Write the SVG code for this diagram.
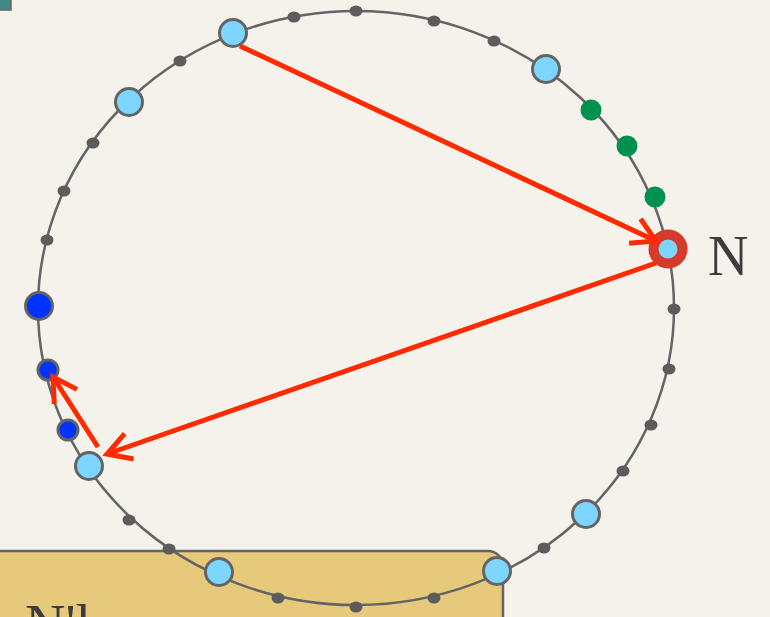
<svg xmlns="http://www.w3.org/2000/svg" width="770" height="617" viewBox="0 0 770 617">
<style>
.ring{fill:none;stroke:#646464;stroke-width:2.5}
.dot{fill:#5c5c5c}
.lb{fill:#7dd6ff;stroke:#646464;stroke-width:3}
.bl{fill:#0033ff;stroke:#646464;stroke-width:3}
.gr{fill:#009150}
.arr{fill:none;stroke:#ff2a00;stroke-width:5;marker-end:url(#ah)}
.lbl{font-family:"Liberation Serif","DejaVu Serif",serif;fill:#3c3c3c}
</style>
<defs>
<marker id="ah" markerUnits="userSpaceOnUse" markerWidth="60" markerHeight="60" viewBox="-30 -30 60 60" refX="0" refY="0" orient="auto" overflow="visible">
<path d="M-23.4,-13.5 L0,0 L-23.4,13.5" fill="none" stroke="#ff2a00" stroke-width="5"/>
</marker>
</defs>
<rect x="0" y="0" width="770" height="617" fill="#f5f2ec"/>
<g id="corner"><rect x="-3" y="-3" width="14" height="13" fill="#3d8a86" stroke="#646464" stroke-width="1.5"/></g>
<g id="box">
<rect x="-30" y="551" width="533" height="120" rx="15" fill="#e6c97b" stroke="#646464" stroke-width="2.5"/>
<text class="lbl" x="25" y="644" font-size="56">N'l</text>
</g>
<g id="ring"><ellipse class="ring" cx="356" cy="308" rx="318" ry="297"/></g>
<g id="dots">
<ellipse class="dot" cx="356" cy="11" rx="6.5" ry="5.5"/>
<ellipse class="dot" cx="294" cy="17" rx="6.5" ry="5.5"/>
<ellipse class="dot" cx="434" cy="21" rx="6.5" ry="5.5"/>
<ellipse class="dot" cx="494" cy="41" rx="6.5" ry="5.5"/>
<ellipse class="dot" cx="180" cy="61" rx="6.5" ry="5.5"/>
<ellipse class="dot" cx="93" cy="143" rx="6.5" ry="5.5"/>
<ellipse class="dot" cx="64" cy="191" rx="6.5" ry="5.5"/>
<ellipse class="dot" cx="47" cy="240" rx="6.5" ry="5.5"/>
<ellipse class="dot" cx="129" cy="520" rx="6.5" ry="5.5"/>
<ellipse class="dot" cx="169" cy="549" rx="6.5" ry="5.5"/>
<ellipse class="dot" cx="278" cy="598" rx="6.5" ry="5.5"/>
<ellipse class="dot" cx="356" cy="607" rx="6.5" ry="5.5"/>
<ellipse class="dot" cx="434" cy="598" rx="6.5" ry="5.5"/>
<ellipse class="dot" cx="544" cy="548" rx="6.5" ry="5.5"/>
<ellipse class="dot" cx="623" cy="471" rx="6.5" ry="5.5"/>
<ellipse class="dot" cx="651" cy="425" rx="6.5" ry="5.5"/>
<ellipse class="dot" cx="669" cy="369" rx="6.5" ry="5.5"/>
<ellipse class="dot" cx="674" cy="309" rx="6.5" ry="5.5"/>
</g>
<g id="n1"><circle class="lb" cx="233" cy="33" r="13.5"/></g>
<g id="n2"><circle class="lb" cx="129" cy="102" r="13.5"/></g>
<g id="n3"><circle class="lb" cx="546" cy="69" r="13.5"/></g>
<g id="n4"><circle class="lb" cx="89" cy="466" r="13.5"/></g>
<g id="n5"><circle class="lb" cx="219" cy="572" r="13.5"/></g>
<g id="n6"><circle class="lb" cx="497" cy="571" r="13.5"/></g>
<g id="n7"><circle class="lb" cx="586" cy="514" r="13.5"/></g>
<g id="b1"><circle class="bl" cx="39" cy="306" r="13.5"/></g>
<g id="b2"><circle class="bl" cx="48" cy="370" r="10"/></g>
<g id="b3"><circle class="bl" cx="68" cy="430" r="10"/></g>
<g id="g1"><circle class="gr" cx="591" cy="110" r="10.5"/></g>
<g id="g2"><circle class="gr" cx="627" cy="146" r="10.5"/></g>
<g id="g3"><circle class="gr" cx="655" cy="197" r="10.5"/></g>
<g id="N">
<circle cx="668" cy="249" r="14.5" fill="#7dd6ff" stroke="#d63a2a" stroke-width="10"/>
<text class="lbl" x="708" y="275" font-size="56">N</text>
</g>
<g id="connectors">
<path class="arr" d="M240,46 L656,241"/>
<path class="arr" d="M656,263 L107,454"/>
<path class="arr" d="M98,447 L53,377"/>
</g>
</svg>
